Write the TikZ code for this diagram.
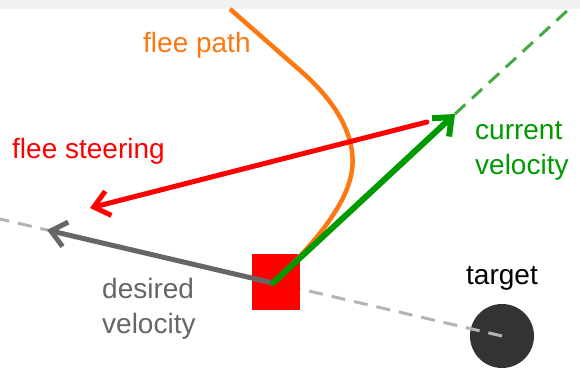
\documentclass[tikz,border=0pt]{standalone}
\usepackage{fontspec}
\setmainfont{Liberation Sans}
\usetikzlibrary{arrows.meta}
\definecolor{bandgray}{HTML}{F1F1F1}
\definecolor{fleered}{HTML}{FF0000}
\definecolor{fleeorange}{HTML}{FF7711}
\definecolor{velgreen}{HTML}{009900}
\definecolor{guidegreen}{HTML}{44AA44}
\definecolor{desgray}{HTML}{666666}
\definecolor{guidegray}{HTML}{B4B4B4}
\definecolor{targetgray}{HTML}{333333}
\begin{document}
\begin{tikzpicture}[x=1pt,y=-1pt,
  label text/.style={font=\fontsize{28}{35}\selectfont,inner sep=0pt,align=left},
  vector/.style={line width=5pt,line cap=round,line join=round,
    -{Straight Barb[length=15pt,width=25pt]}},
  guide/.style={line width=3pt,dash pattern=on 14pt off 9pt}]
  \useasboundingbox (0,0) rectangle (580,374);
  \fill[bandgray] (0,0) rectangle (580,9);

  \coordinate (vehicle) at (273,283);
  \coordinate (current tip) at (455,114);
  \coordinate (desired tip) at (47,230);
  \coordinate (left end) at (0,219);
  \coordinate (right end) at (569,9);
  \coordinate (steer start) at (427,122);
  \coordinate (steer tip) at (90,208);
  \coordinate (path start) at (230,9);

  \node[circle,fill=targetgray,minimum size=64pt,inner sep=0pt] (target) at (502,336) {};
  \draw[guide,guidegray] (target.center) -- (left end);
  \draw[guide,guidegreen] (current tip) -- (right end);
  \node[fill=fleered,minimum width=48pt,minimum height=56pt,inner sep=0pt] (vehicle box) at (276,282) {};

  \draw[fleeorange,line width=4.5pt] (path start) -- (303,73)
    .. controls (340,106) and (356,140) .. (352,170)
    .. controls (348,200) and (322,237) .. (vehicle);

  \draw[vector,desgray] (vehicle) -- (desired tip);
  \draw[vector,fleered] (steer start) -- (steer tip);
  \draw[vector,velgreen,line width=6pt] (vehicle) -- (current tip);

  \node[label text,fleeorange,anchor=base west] (path label) at (143,53) {flee path};
  \node[label text,fleered,anchor=base west] (steer label) at (12,158) {flee steering};
  \node[label text,velgreen,anchor=base west] (current label) at (475,175) {current\\velocity};
  \node[label text,desgray,anchor=base west] (desired label) at (102,333) {desired\\velocity};
  \node[label text,black,anchor=base] (target label) at (target.center |- 0,284) {target};
\end{tikzpicture}
\end{document}
